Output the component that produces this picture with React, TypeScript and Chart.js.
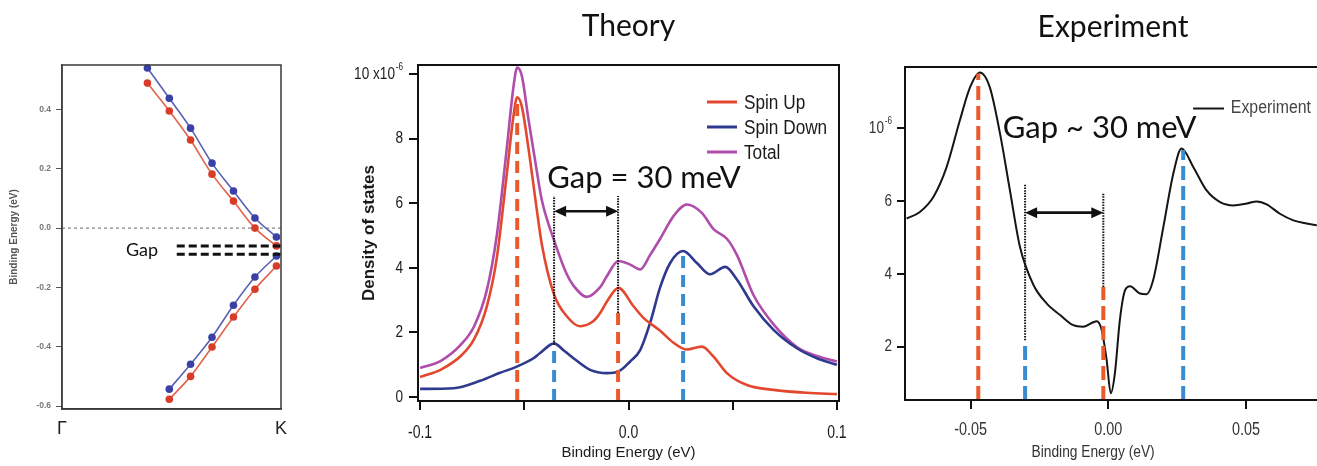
import React, { useEffect, useRef } from "react";
import { Chart, registerables } from "chart.js";

Chart.register(...registerables);

const HEIGHT = 466;
const SANS = '"Liberation Sans", Arial, Helvetica, sans-serif';
const HUMANIST = 'Lato, "Open Sans", "Noto Sans", sans-serif';

const RED = "#e3472e";
const NAVY = "#2f3a8f";
const MAGENTA = "#b04caa";
const DASH_ORANGE = "#ea5a2b";
const DASH_BLUE = "#3b8bd2";

Chart.defaults.font.family = SANS;

// ---------- band structure along Γ–K ----------
const kUpper = [0.39, 0.49, 0.587, 0.685, 0.783, 0.881, 0.979];
const kLower = [0.49, 0.587, 0.685, 0.783, 0.881, 0.979];
const upperSpinDown = [0.54, 0.438, 0.337, 0.219, 0.125, 0.034, -0.03];
const upperSpinUp = [0.489, 0.395, 0.297, 0.182, 0.091, 0.0, -0.06];
const lowerSpinDown = [-0.543, -0.459, -0.368, -0.26, -0.165, -0.094];
const lowerSpinUp = [-0.577, -0.5, -0.401, -0.3, -0.206, -0.128];
const bandGapEdges = [-0.06, -0.088];
const bandGapStartK = 0.524;
const bandTicks = [-0.6, -0.4, -0.2, 0.0, 0.2, 0.4];
const bandTickLabels = ["-0.6", "-0.4", "-0.2", "0.0", "0.2", "0.4"];
const kTicks = [0, 1];
const kLabels = ["Γ", "K"];
const BAND_Y = [-0.61, 0.55];

// ---------- theory: spin-resolved density of states ----------
const upEnergy = [-0.1, -0.09, -0.08, -0.074, -0.068, -0.0632, -0.0584, -0.0552, -0.0534, -0.0512, -0.048, -0.044, -0.0416, -0.0357, -0.0296, -0.0232, -0.0168, -0.0136, -0.0104, -0.0048, 0.0024, 0.0072, 0.0152, 0.0216, 0.028, 0.0352, 0.0408, 0.0472, 0.0568, 0.0696, 0.0856, 0.1];
const upDos = [0.62, 0.85, 1.3, 1.8, 2.8, 4.3, 6.9, 8.7, 9.28, 9.0, 7.7, 5.8, 4.73, 3.17, 2.5, 2.19, 2.35, 2.6, 2.95, 3.38, 2.81, 2.45, 2.05, 1.68, 1.47, 1.56, 1.25, 0.74, 0.37, 0.22, 0.13, 0.09];

const downEnergy = [-0.1, -0.084, -0.0712, -0.0616, -0.0536, -0.0456, -0.0424, -0.0357, -0.0312, -0.0264, -0.0184, -0.0104, -0.0048, 0.0008, 0.0056, 0.0104, 0.0152, 0.02, 0.0262, 0.0328, 0.0392, 0.0464, 0.052, 0.06, 0.0696, 0.0808, 0.0904, 0.1];
const downDos = [0.25, 0.27, 0.5, 0.75, 0.94, 1.2, 1.36, 1.66, 1.45, 1.2, 0.84, 0.74, 0.79, 1.1, 1.45, 2.3, 3.4, 4.15, 4.52, 4.15, 3.8, 4.03, 3.64, 2.81, 2.08, 1.51, 1.2, 1.0];

const totalEnergy = [-0.1, -0.09, -0.08, -0.074, -0.068, -0.0632, -0.0584, -0.0552, -0.0534, -0.0512, -0.048, -0.044, -0.0416, -0.0357, -0.0296, -0.0264, -0.02, -0.0136, -0.0104, -0.0048, 0.0008, 0.0056, 0.0104, 0.0152, 0.0216, 0.028, 0.0352, 0.0408, 0.0472, 0.052, 0.06, 0.0696, 0.0808, 0.0904, 0.1];
const totalDos = [0.9, 1.12, 1.65, 2.2, 3.3, 5.0, 7.7, 9.6, 10.2, 9.95, 8.6, 7.0, 6.1, 4.85, 3.8, 3.45, 3.1, 3.4, 3.74, 4.21, 4.1, 3.95, 4.4, 4.9, 5.6, 5.96, 5.7, 5.2, 4.9, 4.4, 3.15, 2.25, 1.55, 1.27, 1.1];

const theorySeriesNames = ["Spin Up", "Spin Down", "Total"];
const theoryPeakEnergy = [-0.0534, -0.0357, -0.005, 0.0262];
const theoryPeakTop = [9.25, 1.62, 2.6, 4.48];
const theoryPeakSpin = ["up", "down", "up", "down"];
const theoryGapEdges = [-0.0357, -0.005];
const theoryGapFrom = [1.62, 2.6];
const theoryGapTop = 6.22;
const theoryArrowLevel = 5.75;
const theoryXTicks = [-0.1, -0.05, 0, 0.05, 0.1];
const theoryXLabels = ["-0.1", "", "0.0", "", "0.1"];
const theoryYTicks = [0, 2, 4, 6, 8, 10];
const theoryYLabels = ["0", "2", "4", "6", "8", "10 x10^-6"];
const THEORY_X = [-0.101, 0.101];
const THEORY_Y = [-0.124, 10.28];

// ---------- experiment ----------
const expEnergy = [-0.0732, -0.0684, -0.0635, -0.0587, -0.0539, -0.0502, -0.0466, -0.043, -0.0393, -0.0357, -0.0321, -0.0272, -0.0224, -0.0175, -0.0127, -0.0091, -0.0042, -0.0024, -0.0006, 0.0009, 0.0024, 0.0042, 0.0061, 0.0079, 0.0115, 0.0139, 0.0163, 0.02, 0.0236, 0.0266, 0.0309, 0.0357, 0.0406, 0.0454, 0.0503, 0.0539, 0.0575, 0.0623, 0.0672, 0.072, 0.0757];
const expDos = [5.52, 5.7, 6.11, 6.93, 8.21, 9.12, 9.53, 9.12, 7.85, 6.29, 4.75, 3.7, 3.19, 2.87, 2.59, 2.55, 2.7, 2.46, 1.64, 0.72, 1.27, 2.73, 3.55, 3.66, 3.46, 3.44, 3.83, 5.29, 6.75, 7.44, 6.93, 6.29, 5.97, 5.88, 5.93, 5.99, 5.91, 5.65, 5.47, 5.38, 5.33];
const expPeakEnergy = [-0.0472, -0.0302, -0.0018, 0.0272];
const expPeakTop = [9.5, 2.18, 3.64, 7.4];
const expPeakSpin = ["up", "down", "up", "down"];
const expGapEdges = [-0.0302, -0.0018];
const expGapFrom = [2.18, 3.64];
const expGapTop = [6.48, 6.2];
const expArrowLevel = 5.68;
const expXTicks = [-0.05, 0, 0.05];
const expXLabels = ["-0.05", "0.00", "0.05"];
const expYTicks = [2, 4, 6, 8];
const expYLabels = ["2", "4", "6", "10^-6"];
const EXP_X = [-0.0738, 0.0765];
const EXP_Y = [0.536, 9.68];

type Pt = { x: number; y: number };
const pts = (xs: number[], ys: number[]): Pt[] => xs.map((x, i) => ({ x, y: ys[i] }));

function vertical(x: number, y0: number, y1: number, color: string, dash: number[], width: number) {
  return {
    data: [{ x, y: y0 }, { x, y: y1 }],
    borderColor: color,
    borderWidth: width,
    borderDash: dash,
    borderCapStyle: "butt",
    pointRadius: 0,
    tension: 0,
  };
}

function fixedTicks(values: number[]) {
  return (axis: any) => {
    axis.ticks = values.map((v) => ({ value: v }));
  };
}

function overlay(draw: (chart: any, ctx: CanvasRenderingContext2D) => void) {
  return {
    id: "overlay",
    afterDraw(chart: any) {
      const ctx = chart.ctx as CanvasRenderingContext2D;
      ctx.save();
      draw(chart, ctx);
      ctx.restore();
    },
  };
}

function drawFrame(chart: any, ctx: CanvasRenderingContext2D, color: string, width: number) {
  const { left, top, right, bottom } = chart.chartArea;
  ctx.strokeStyle = color;
  ctx.lineWidth = width;
  ctx.setLineDash([]);
  ctx.strokeRect(left, top, right - left, bottom - top);
}

function drawText(
  ctx: CanvasRenderingContext2D,
  s: string,
  x: number,
  y: number,
  font: string,
  color: string,
  align: CanvasTextAlign = "left",
  baseline: CanvasTextBaseline = "alphabetic"
) {
  ctx.font = font;
  ctx.fillStyle = color;
  ctx.textAlign = align;
  ctx.textBaseline = baseline;
  ctx.fillText(s, x, y);
}

// Condensed Helvetica-style label; "a^b" puts b as a superscript.
function narrowText(
  ctx: CanvasRenderingContext2D,
  s: string,
  x: number,
  y: number,
  size: number,
  color: string,
  align: "left" | "right" | "center",
  squeeze: number
) {
  const [base, sup] = s.split("^");
  const supSize = size * 0.6;
  ctx.save();
  ctx.translate(x, y);
  ctx.scale(squeeze, 1);
  ctx.fillStyle = color;
  ctx.textBaseline = "middle";
  ctx.textAlign = "left";
  ctx.font = `${size}px ${SANS}`;
  const bw = ctx.measureText(base).width;
  let sw = 0;
  if (sup) {
    ctx.font = `${supSize}px ${SANS}`;
    sw = ctx.measureText(sup).width + 1;
  }
  const total = bw + sw;
  const start = align === "left" ? 0 : align === "right" ? -total : -total / 2;
  ctx.font = `${size}px ${SANS}`;
  ctx.fillText(base, start, 0);
  if (sup) {
    ctx.font = `${supSize}px ${SANS}`;
    ctx.fillText(sup, start + bw + 1, -size * 0.42);
  }
  ctx.restore();
}

function drawDoubleArrow(ctx: CanvasRenderingContext2D, x1: number, x2: number, y: number) {
  const head = 12;
  const half = 5.5;
  ctx.strokeStyle = "#111";
  ctx.fillStyle = "#111";
  ctx.lineWidth = 2.6;
  ctx.setLineDash([]);
  ctx.beginPath();
  ctx.moveTo(x1 + head - 2, y);
  ctx.lineTo(x2 - head + 2, y);
  ctx.stroke();
  ctx.beginPath();
  ctx.moveTo(x1, y);
  ctx.lineTo(x1 + head, y - half);
  ctx.lineTo(x1 + head, y + half);
  ctx.closePath();
  ctx.fill();
  ctx.beginPath();
  ctx.moveTo(x2, y);
  ctx.lineTo(x2 - head, y - half);
  ctx.lineTo(x2 - head, y + half);
  ctx.closePath();
  ctx.fill();
}

function drawXLabels(chart: any, ctx: CanvasRenderingContext2D, ticks: number[], labels: string[], dy: number, size: number, color: string, squeeze: number) {
  const xs = chart.scales.x;
  const y = chart.chartArea.bottom + dy;
  ticks.forEach((v, i) => {
    if (labels[i]) narrowText(ctx, labels[i], xs.getPixelForValue(v), y, size, color, "center", squeeze);
  });
}

function drawYLabels(chart: any, ctx: CanvasRenderingContext2D, ticks: number[], labels: string[], dx: number, size: number, color: string, squeeze: number) {
  const ys = chart.scales.y;
  const x = chart.chartArea.left - dx;
  ticks.forEach((v, i) => {
    if (labels[i]) narrowText(ctx, labels[i], x, ys.getPixelForValue(v), size, color, "right", squeeze);
  });
}

const noPlugins = { legend: { display: false }, tooltip: { enabled: false } };

// ---------- left panel ----------
function bandConfig(): any {
  const blueLine = "#5861b4";
  const bluePoint = "#3a40a6";
  const redLine = "#e0644c";
  const redPoint = "#d83c28";
  const band = (xs: number[], ys: number[], line: string, point: string) => ({
    data: pts(xs, ys),
    borderColor: line,
    borderWidth: 1.6,
    pointRadius: 3.8,
    pointBackgroundColor: point,
    pointBorderColor: point,
    pointBorderWidth: 0,
    cubicInterpolationMode: "monotone",
    clip: 6,
  });
  return {
    type: "line",
    data: {
      datasets: [
        ...bandGapEdges.map((e) => ({
          data: [{ x: bandGapStartK, y: e }, { x: 1, y: e }],
          borderColor: "#111",
          borderWidth: 3,
          borderDash: [8, 4],
          borderCapStyle: "butt",
          pointRadius: 0,
        })),
        band(kUpper, upperSpinDown, blueLine, bluePoint),
        band(kUpper, upperSpinUp, redLine, redPoint),
        band(kLower, lowerSpinDown, blueLine, bluePoint),
        band(kLower, lowerSpinUp, redLine, redPoint),
        {
          data: [{ x: 0, y: 0 }, { x: 1, y: 0 }],
          borderColor: "#666",
          borderWidth: 1,
          borderDash: [3, 3],
          pointRadius: 0,
        },
      ],
    },
    options: {
      responsive: false,
      animation: false,
      devicePixelRatio: 1,
      layout: { padding: { left: 0, right: 19, top: 65, bottom: 0 } },
      plugins: noPlugins,
      scales: {
        x: {
          type: "linear",
          min: 0,
          max: 1,
          afterBuildTicks: fixedTicks(kTicks),
          afterFit: (a: any) => {
            a.height = HEIGHT - 409;
          },
          ticks: {
            callback: (_v: any, i: number) => kLabels[i],
            font: { family: SANS, size: 18 },
            color: "#222",
            padding: 9,
            maxRotation: 0,
            autoSkip: false,
          },
          grid: { display: true, drawOnChartArea: false, drawTicks: false },
          border: { display: true, color: "#333", width: 1.5 },
        },
        y: {
          type: "linear",
          min: BAND_Y[0],
          max: BAND_Y[1],
          afterBuildTicks: fixedTicks(bandTicks),
          afterFit: (a: any) => {
            a.width = 62;
          },
          ticks: {
            callback: (_v: any, i: number) => bandTickLabels[i],
            font: { family: SANS, size: 8.5, weight: "bold" },
            color: "#777",
            padding: 5,
            autoSkip: false,
          },
          grid: { drawOnChartArea: false, tickLength: 6, color: "#555", lineWidth: 1 },
          border: { display: true, color: "#555", width: 1.5 },
          title: {
            display: true,
            text: "Binding Energy (eV)",
            font: { family: SANS, size: 10, weight: "bold" },
            color: "#555",
            padding: { top: 8, bottom: 0 },
          },
        },
      },
    },
    plugins: [
      overlay((chart, ctx) => {
        drawFrame(chart, ctx, "#3a3a3a", 1.5);
        const xs = chart.scales.x;
        const ys = chart.scales.y;
        drawText(ctx, "Gap", xs.getPixelForValue(0.292), ys.getPixelForValue(-0.094), `18px ${HUMANIST}`, "#111");
      }),
    ],
  };
}

// ---------- middle panel ----------
function theoryConfig(): any {
  const markers = theoryPeakEnergy.map((x, i) =>
    vertical(x, THEORY_Y[0], theoryPeakTop[i], theoryPeakSpin[i] === "up" ? DASH_ORANGE : DASH_BLUE, [12, 7], 4)
  );
  const dotted = theoryGapEdges.map((x, i) => vertical(x, theoryGapFrom[i], theoryGapTop, "#111", [1.5, 1.2], 2));
  const curve = (label: string, xs: number[], ys: number[], color: string) => ({
    label,
    data: pts(xs, ys),
    borderColor: color,
    borderWidth: 2.6,
    pointRadius: 0,
    cubicInterpolationMode: "monotone",
  });
  const colors = [RED, NAVY, MAGENTA];
  return {
    type: "line",
    data: {
      datasets: [
        ...markers,
        ...dotted,
        curve(theorySeriesNames[0], upEnergy, upDos, colors[0]),
        curve(theorySeriesNames[1], downEnergy, downDos, colors[1]),
        curve(theorySeriesNames[2], totalEnergy, totalDos, colors[2]),
      ],
    },
    options: {
      responsive: false,
      animation: false,
      devicePixelRatio: 1,
      layout: { padding: { left: 0, right: 21, top: 65, bottom: 0 } },
      plugins: noPlugins,
      scales: {
        x: {
          type: "linear",
          min: THEORY_X[0],
          max: THEORY_X[1],
          afterBuildTicks: fixedTicks(theoryXTicks),
          afterFit: (a: any) => {
            a.height = HEIGHT - 401;
          },
          ticks: { display: false },
          grid: { drawOnChartArea: false, tickLength: 9, color: "#111", lineWidth: 2 },
          border: { display: true, color: "#111", width: 2 },
          title: {
            display: true,
            text: "Binding Energy (eV)",
            font: { family: SANS, size: 15 },
            color: "#1a1a1a",
            padding: { top: 0, bottom: 4 },
          },
        },
        y: {
          type: "linear",
          min: THEORY_Y[0],
          max: THEORY_Y[1],
          afterBuildTicks: fixedTicks(theoryYTicks),
          afterFit: (a: any) => {
            a.width = 118;
          },
          ticks: { display: false },
          grid: { drawOnChartArea: false, tickLength: 9, color: "#111", lineWidth: 2 },
          border: { display: true, color: "#111", width: 2 },
          title: {
            display: true,
            text: "Density of states",
            font: { family: SANS, size: 17, weight: "bold" },
            color: "#1a1a1a",
            padding: { top: 59, bottom: 0 },
          },
        },
      },
    },
    plugins: [
      overlay((chart, ctx) => {
        drawFrame(chart, ctx, "#111", 2);
        const { left, right, top } = chart.chartArea;
        const xs = chart.scales.x;
        const ys = chart.scales.y;
        drawXLabels(chart, ctx, theoryXTicks, theoryXLabels, 32, 18, "#1a1a1a", 0.78);
        drawYLabels(chart, ctx, theoryYTicks, theoryYLabels, 15, 17, "#1a1a1a", 0.8);
        drawText(ctx, "Theory", (left + right) / 2, top - 29, `30px ${HUMANIST}`, "#111", "center");
        // legend
        theorySeriesNames.forEach((name, i) => {
          const y = top + 37 + i * 25;
          ctx.strokeStyle = colors[i];
          ctx.lineWidth = 3;
          ctx.setLineDash([]);
          ctx.beginPath();
          ctx.moveTo(right - 132, y);
          ctx.lineTo(right - 102, y);
          ctx.stroke();
          narrowText(ctx, name, right - 95, y + 1, 20, "#1a1a1a", "left", 0.86);
        });
        drawText(ctx, "Gap = 30 meV", xs.getPixelForValue(-0.039), ys.getPixelForValue(6.47), `31px ${HUMANIST}`, "#111");
        drawDoubleArrow(
          ctx,
          xs.getPixelForValue(theoryGapEdges[0]),
          xs.getPixelForValue(theoryGapEdges[1]),
          ys.getPixelForValue(theoryArrowLevel)
        );
      }),
    ],
  };
}

// ---------- right panel ----------
function experimentConfig(): any {
  const markers = expPeakEnergy.map((x, i) =>
    vertical(x, EXP_Y[0], expPeakTop[i], expPeakSpin[i] === "up" ? DASH_ORANGE : DASH_BLUE, [14, 6], 4)
  );
  const dotted = expGapEdges.map((x, i) => vertical(x, expGapFrom[i], expGapTop[i], "#111", [1.5, 1.2], 2));
  return {
    type: "line",
    data: {
      datasets: [
        ...markers,
        ...dotted,
        {
          label: "Experiment",
          data: pts(expEnergy, expDos),
          borderColor: "#151515",
          borderWidth: 2,
          pointRadius: 0,
          cubicInterpolationMode: "monotone",
        },
      ],
    },
    options: {
      responsive: false,
      animation: false,
      devicePixelRatio: 1,
      layout: { padding: { left: 0, right: 11, top: 67, bottom: 0 } },
      plugins: noPlugins,
      scales: {
        x: {
          type: "linear",
          min: EXP_X[0],
          max: EXP_X[1],
          afterBuildTicks: fixedTicks(expXTicks),
          afterFit: (a: any) => {
            a.height = HEIGHT - 400;
          },
          ticks: { display: false },
          grid: { drawOnChartArea: false, tickLength: 9, color: "#111", lineWidth: 2 },
          border: { display: true, color: "#111", width: 2 },
        },
        y: {
          type: "linear",
          min: EXP_Y[0],
          max: EXP_Y[1],
          afterBuildTicks: fixedTicks(expYTicks),
          afterFit: (a: any) => {
            a.width = 45;
          },
          ticks: { display: false },
          grid: { drawOnChartArea: false, tickLength: 8, color: "#111", lineWidth: 2 },
          border: { display: true, color: "#111", width: 2 },
        },
      },
    },
    plugins: [
      overlay((chart, ctx) => {
        drawFrame(chart, ctx, "#111", 2);
        const { top } = chart.chartArea;
        const xs = chart.scales.x;
        const ys = chart.scales.y;
        drawXLabels(chart, ctx, expXTicks, expXLabels, 30, 18, "#333", 0.8);
        drawYLabels(chart, ctx, expYTicks, expYLabels, 13, 17, "#333", 0.8);
        drawText(ctx, "Experiment", 1113 - 860, top - 30, `30px ${HUMANIST}`, "#111", "center");
        narrowText(ctx, "Binding Energy (eV)", xs.getPixelForValue(-0.0055), 453, 16, "#333", "center", 0.86);
        // legend
        const ly = ys.getPixelForValue(8.54);
        ctx.strokeStyle = "#151515";
        ctx.lineWidth = 2;
        ctx.setLineDash([]);
        ctx.beginPath();
        ctx.moveTo(xs.getPixelForValue(0.0308), ly);
        ctx.lineTo(xs.getPixelForValue(0.042), ly);
        ctx.stroke();
        narrowText(ctx, "Experiment", xs.getPixelForValue(0.0445), ly, 18, "#444", "left", 0.88);
        drawText(ctx, "Gap ~ 30 meV", xs.getPixelForValue(-0.0383), ys.getPixelForValue(7.72), `31px ${HUMANIST}`, "#111");
        drawDoubleArrow(
          ctx,
          xs.getPixelForValue(expGapEdges[0]),
          xs.getPixelForValue(expGapEdges[1]),
          ys.getPixelForValue(expArrowLevel)
        );
      }),
    ],
  };
}

function ChartCanvas({ left, width, build }: { left: number; width: number; build: () => any }) {
  const ref = useRef<HTMLCanvasElement>(null);
  useEffect(() => {
    if (!ref.current) return;
    const chart = new Chart(ref.current, build());
    return () => chart.destroy();
  }, [build]);
  return (
    <canvas
      ref={ref}
      width={width}
      height={HEIGHT}
      style={{ position: "absolute", left, top: 0, width, height: HEIGHT }}
    />
  );
}

export default function App() {
  return (
    <div
      style={{
        position: "fixed",
        left: 0,
        top: 0,
        width: 1317,
        height: HEIGHT,
        overflow: "hidden",
        background: "#ffffff",
      }}
    >
      <ChartCanvas left={0} width={300} build={bandConfig} />
      <ChartCanvas left={300} width={560} build={theoryConfig} />
      <ChartCanvas left={860} width={470} build={experimentConfig} />
    </div>
  );
}
